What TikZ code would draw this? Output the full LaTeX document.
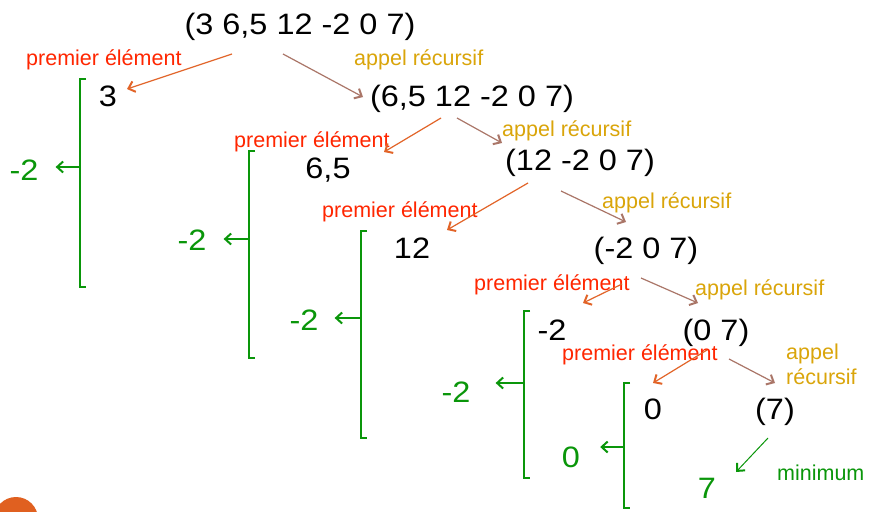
\documentclass[tikz,border=0pt]{standalone}
\usepackage{fontspec}
\setmainfont{Liberation Sans}
\newfontfamily\bigfont[FakeStretch=1.1]{Liberation Sans}
\usetikzlibrary{arrows.meta}
\definecolor{premred}{RGB}{255,38,0}
\definecolor{recyellow}{RGB}{218,165,10}
\definecolor{firstorange}{RGB}{226,100,40}
\definecolor{recbrown}{RGB}{170,118,104}
\definecolor{mingreen}{RGB}{10,150,10}
\definecolor{dotorange}{RGB}{224,96,32}
\begin{document}
\begin{tikzpicture}[
    x=1pt, y=-1pt,
    lst/.style={anchor=base, inner sep=1pt, font=\bigfont\fontsize{29.5}{32}\selectfont},
    res/.style={lst, text=mingreen},
    firstlbl/.style={anchor=base west, inner sep=0pt, text=premred, font=\fontsize{21.5}{25}\selectfont},
    reclbl/.style={firstlbl, text=recyellow},
    firstarr/.style={draw=firstorange, line width=1.2pt, -{Straight Barb[length=6pt,width=11pt,line width=2pt]}},
    recarr/.style={firstarr, draw=recbrown},
    brack/.style={draw=mingreen, line width=1.3pt},
    resarr/.style={brack, -{Straight Barb[length=6pt,width=11pt,line width=2pt]}}]
  \useasboundingbox[fill=white] (0,0) rectangle (877,511);
  \clip (0,0) rectangle (877,511);
  \fill[dotorange] (16,519) circle[radius=22];

  % the lists
  \node[lst] (root) at (300,35) {(3 6,5 12 -2 0 7)};
  \node[lst] (e1) at (108,106) {3};
  \node[lst] (r1) at (472,106) {(6,5 12 -2 0 7)};
  \node[lst] (e2) at (328,178) {6,5};
  \node[lst] (r2) at (580,170) {(12 -2 0 7)};
  \node[lst] (e3) at (412,258) {12};
  \node[lst] (r3) at (646,258) {(-2 0 7)};
  \node[lst] (e4) at (552,340) {-2};
  \node[lst] (r4) at (716,340) {(0 7)};
  \node[lst] (e5) at (653,419) {0};
  \node[lst] (r5) at (775,419) {(7)};

  % labels
  \node[firstlbl] (p1) at (26,65) {premier élément};
  \node[reclbl] (a1) at (354,65) {appel récursif};
  \node[firstlbl] (p2) at (234,147) {premier élément};
  \node[reclbl] (a2) at (502,136) {appel récursif};
  \node[firstlbl] (p3) at (322,217) {premier élément};
  \node[reclbl] (a3) at (602,208) {appel récursif};
  \node[firstlbl] (p4) at (474,290) {premier élément};
  \node[reclbl] (a4) at (695,295) {appel récursif};
  \node[firstlbl] (p5) at (562,360) {premier élément};
  \node[reclbl, anchor=north west, align=left] (a5) at (786,344) {appel\\récursif};

  \draw[firstarr] ([shift={(-68,19)}]root.base) -- ([shift={(19,-17)}]e1.base);
  \draw[recarr] ([shift={(-17,19)}]root.base) -- ([shift={(-109,-9)}]r1.base);
  \draw[firstarr] ([shift={(-31,12)}]r1.base) -- ([shift={(56,-26)}]e2.base);
  \draw[recarr] ([shift={(-15,12)}]r1.base) -- ([shift={(-78,-27)}]r2.base);
  \draw[firstarr] ([shift={(-52,13)}]r2.base) -- ([shift={(35,-28)}]e3.base);
  \draw[recarr] ([shift={(-19,21)}]r2.base) -- ([shift={(-20,-36)}]r3.base);
  \draw[firstarr] ([shift={(-24,26)}]r3.base) -- ([shift={(31,-37)}]e4.base);
  \draw[recarr] ([shift={(-5,20)}]r3.base) -- ([shift={(-18,-37)}]r4.base);
  \draw[firstarr] ([shift={(-9,10)}]r4.base) -- ([shift={(0,-36)}]e5.base);
  \draw[recarr] ([shift={(13,19)}]r4.base) -- ([shift={(0,-36)}]r5.base);

  % minimums
  \node[res] (v1) at (24,180) {-2};
  \node[res] (v2) at (192,250) {-2};
  \node[res] (v3) at (304,330) {-2};
  \node[res] (v4) at (456,402) {-2};
  \node[res] (v5) at (571,467) {0};
  \node[res] (v6) at (707,498) {7};
  \node[firstlbl, text=mingreen] (mn) at (777,480) {minimum};

  \draw[brack] (86,79) -- (80,79) -- (80,287) -- (86,287);
  \draw[brack] (255,151) -- (249,151) -- (249,358) -- (255,358);
  \draw[brack] (367,231) -- (361,231) -- (361,438) -- (367,438);
  \draw[brack] (530,311) -- (524,311) -- (524,478) -- (530,478);
  \draw[brack] (630,383) -- (624,383) -- (624,508) -- (630,508);
  \coordinate (k1) at (80,167);
  \coordinate (k2) at (249,239);
  \coordinate (k3) at (361,318);
  \coordinate (k4) at (524,383);
  \coordinate (k5) at (624,447);
  \draw[resarr, shorten >=16pt] (k1) -- (k1 -| v1.east);
  \draw[resarr, shorten >=16pt] (k2) -- (k2 -| v2.east);
  \draw[resarr, shorten >=15pt] (k3) -- (k3 -| v3.east);
  \draw[resarr, shorten >=24pt] (k4) -- (k4 -| v4.east);
  \draw[resarr, shorten >=19pt] (k5) -- (k5 -| v5.east);
  \draw[resarr, line width=1pt] ([shift={(-7,19)}]r5.base) -- ([shift={(29,-26)}]v6.base);
\end{tikzpicture}
\end{document}
